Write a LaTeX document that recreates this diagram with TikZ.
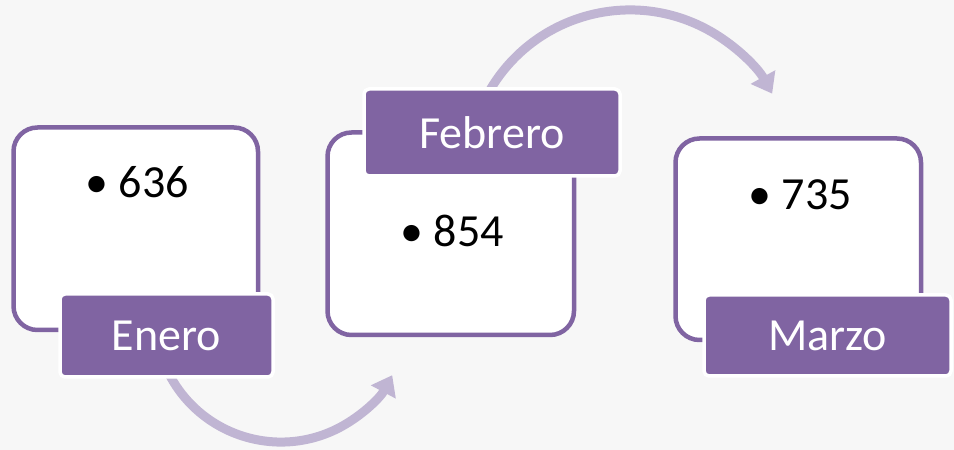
\documentclass[tikz,border=0pt]{standalone}
\usepackage{fontspec}
\setmainfont{Carlito}
\usetikzlibrary{arrows.meta}
\definecolor{bgc}{HTML}{F7F7F7}
\definecolor{purp}{HTML}{8064A2}
\definecolor{arrc}{HTML}{C0B5D3}
\tikzset{
  card/.style={draw=purp, line width=4.5pt, fill=white, rounded corners=24pt, inner sep=0pt},
  tag/.style={draw=white, line width=3.5pt, fill=purp, rounded corners=5pt, inner sep=0pt,
    text=white, font=\fontsize{46}{55}\selectfont},
  num/.style={inner sep=0pt, anchor=base east, font=\fontsize{46}{55}\selectfont},
  flow/.style={draw=arrc, line width=9pt, -{Triangle[width=27pt,length=19pt]}},
}
\begin{document}
\begin{tikzpicture}[x=1pt,y=1pt]
\fill[bgc] (0,0) rectangle (954,450);
\useasboundingbox (0,0) rectangle (954,450);
% arrows
\coordinate (a1s) at (169.7,74.8);
\coordinate (a2s) at (489.3,358.8);
\draw[flow] (a1s) arc[start angle=208, end angle=332, radius=126];
\draw[flow] (a2s) arc[start angle=150, end angle=29, radius=162.5];
% cards
\node[card, minimum width=244.5pt, minimum height=202.5pt] (b1) at (135.75,221.25) {};
\node[card, minimum width=246.5pt, minimum height=202.5pt] (b2) at (450.75,216.25) {};
\node[card, minimum width=245.5pt, minimum height=201.5pt] (b3) at (798.25,210.75) {};
% numbers
\node[num] (n1) at (189,252) {\textbullet{} 636};
\node[num] (n2) at (504,203) {\textbullet{} 854};
\node[num] (n3) at (852,240) {\textbullet{} 735};
% tags
\node[tag, minimum width=213pt, minimum height=83pt] (l1) at (166.5,114.5) {Enero};
\node[tag, minimum width=256pt, minimum height=87pt] (l2) at (492,317.5) {Febrero};
\node[tag, minimum width=247pt, minimum height=81pt] (l3) at (827.5,114.5) {Marzo};
\end{tikzpicture}
\end{document}
